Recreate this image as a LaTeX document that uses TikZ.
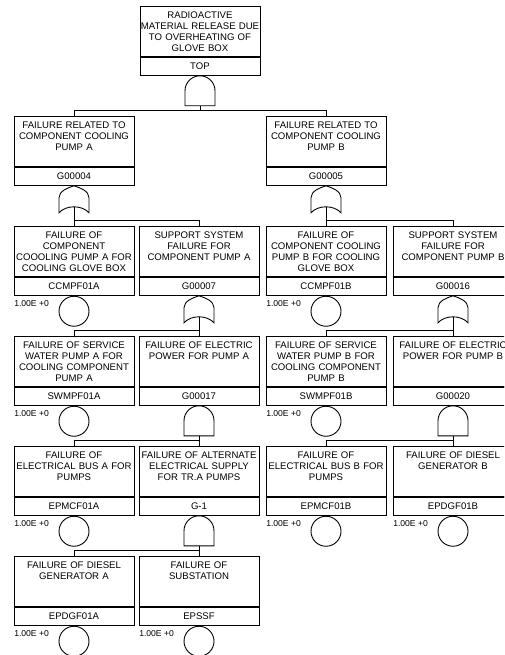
\documentclass[tikz,border=0pt]{standalone}
\usepackage{fontspec}
\setmainfont{Liberation Sans}
\usetikzlibrary{calc}
\tikzset{
  descbox/.style={draw, line width=0.9pt, anchor=north, minimum width=120pt, minimum height=50pt, inner sep=0pt},
  desctext/.style={anchor=north, yshift=-6pt, inner sep=0pt, text width=130pt, align=center, font=\fontsize{9.6}{10.8}\selectfont},
  idbox/.style={draw, line width=0.9pt, anchor=north, minimum width=120pt, minimum height=18pt, inner sep=0pt, font=\fontsize{9.6}{11}\selectfont},
  basiccirc/.style={draw, circle, line width=0.9pt, minimum size=30pt, inner sep=0pt, anchor=north},
  problabel/.style={anchor=west, inner sep=0pt, font=\fontsize{8.6}{9}\selectfont},
  gateline/.style={draw, line width=0.9pt},
  conn/.style={draw, line width=0.9pt},
  divider/.style={draw, line width=1.8pt},
  andgate/.pic={
    \draw[gateline] (-15,30) -- (-15,15) .. controls (-15,6.7) and (-8.3,0) .. (0,0)
       .. controls (8.3,0) and (15,6.7) .. (15,15) -- (15,30) -- cycle;
    \coordinate (-out) at (0,30);
  },
  orgate/.pic={
    \draw[gateline] (0,0) .. controls (-6,2) and (-15,5) .. (-15,12) -- (-15,27)
       .. controls (-8,19) and (8,19) .. (15,27) -- (15,12)
       .. controls (15,5) and (6,2) .. (0,0) -- cycle;
    \coordinate (-out) at (0,21);
  },
}
\newcommand\evbox[5]{%
  \node[descbox] (#1) at (#2,#3) {};
  \node[desctext] (#1-t) at (#1.north) {#4};
  \node[idbox] (#1-id) at (#1.south) {#5};
  \draw[divider] (#1.south west) -- (#1.south east);
}
\newcommand\basicev[1]{%
  \node[basiccirc] (#1-c) at (#1-id.south) {};
  \node[problabel] (#1-p) at ($(#1-id.south west)+(0.5,8)$) {1.00E +0};
}
\newcommand\gatepic[2]{\pic (#1-g) at (#1-id.south) {#2};}
\newcommand\busline[3]{%
  \draw[conn] (#1-g-out) -- ($(#1-g-out |- #2.north)+(0,-6)$);
  \draw[conn] (#2.north) -- ($(#2.north)+(0,-6)$) -| (#3.north);
}
\begin{document}
\begin{tikzpicture}[x=1pt, y=-1pt]
\useasboundingbox (0,0) rectangle (504,655);
\fill[white] (0,0) rectangle (504,655);
\clip (0,0) rectangle (504,655);

% level 0
\evbox{ev0}{200}{6}{RADIOACTIVE\\MATERIAL RELEASE DUE\\TO OVERHEATING OF\\GLOVE BOX}{TOP}
\gatepic{ev0}{andgate}

% level 1
\evbox{gA}{74}{116}{FAILURE RELATED TO\\COMPONENT COOLING\\PUMP A}{G00004}
\gatepic{gA}{orgate}
\evbox{gB}{326}{116}{FAILURE RELATED TO\\COMPONENT COOLING\\PUMP B}{G00005}
\gatepic{gB}{orgate}
\busline{ev0}{gA}{gB}

% level 2
\evbox{ccA}{74}{226}{FAILURE OF\\COMPONENT\\COOOLING PUMP A FOR\\COOLING GLOVE BOX}{CCMPF01A}
\basicev{ccA}
\evbox{gSevenA}{199}{226}{SUPPORT SYSTEM\\FAILURE FOR\\COMPONENT PUMP A}{G00007}
\gatepic{gSevenA}{orgate}
\evbox{ccB}{326}{226}{FAILURE OF\\COMPONENT COOLING\\PUMP B FOR COOLING\\GLOVE BOX}{CCMPF01B}
\basicev{ccB}
\evbox{gSixteen}{453}{226}{SUPPORT SYSTEM\\FAILURE FOR\\COMPONENT PUMP B}{G00016}
\gatepic{gSixteen}{orgate}
\busline{gA}{ccA}{gSevenA}
\busline{gB}{ccB}{gSixteen}

% level 3
\evbox{swA}{74}{336}{FAILURE OF SERVICE\\WATER PUMP A FOR\\COOLING COMPONENT\\PUMP A}{SWMPF01A}
\basicev{swA}
\evbox{gSeventeen}{199}{336}{FAILURE OF ELECTRIC\\POWER FOR PUMP A}{G00017}
\gatepic{gSeventeen}{andgate}
\evbox{swB}{326}{336}{FAILURE OF SERVICE\\WATER PUMP B FOR\\COOLING COMPONENT\\PUMP B}{SWMPF01B}
\basicev{swB}
\evbox{gTwenty}{453}{336}{FAILURE OF ELECTRIC\\POWER FOR PUMP B}{G00020}
\gatepic{gTwenty}{andgate}
\busline{gSevenA}{swA}{gSeventeen}
\busline{gSixteen}{swB}{gTwenty}

% level 4
\evbox{epmA}{74}{446}{FAILURE OF\\ELECTRICAL BUS A FOR\\PUMPS}{EPMCF01A}
\basicev{epmA}
\evbox{gOne}{199}{446}{FAILURE OF ALTERNATE\\ELECTRICAL SUPPLY\\FOR TR.A PUMPS}{G-1}
\gatepic{gOne}{andgate}
\evbox{epmB}{326}{446}{FAILURE OF\\ELECTRICAL BUS B FOR\\PUMPS}{EPMCF01B}
\basicev{epmB}
\evbox{epdB}{453}{446}{FAILURE OF DIESEL\\GENERATOR B}{EPDGF01B}
\basicev{epdB}
\busline{gSeventeen}{epmA}{gOne}
\busline{gTwenty}{epmB}{epdB}

% level 5
\evbox{epdA}{74}{556}{FAILURE OF DIESEL\\GENERATOR A}{EPDGF01A}
\basicev{epdA}
\evbox{epss}{199}{556}{FAILURE OF\\SUBSTATION}{EPSSF}
\basicev{epss}
\busline{gOne}{epdA}{epss}
\end{tikzpicture}
\end{document}
